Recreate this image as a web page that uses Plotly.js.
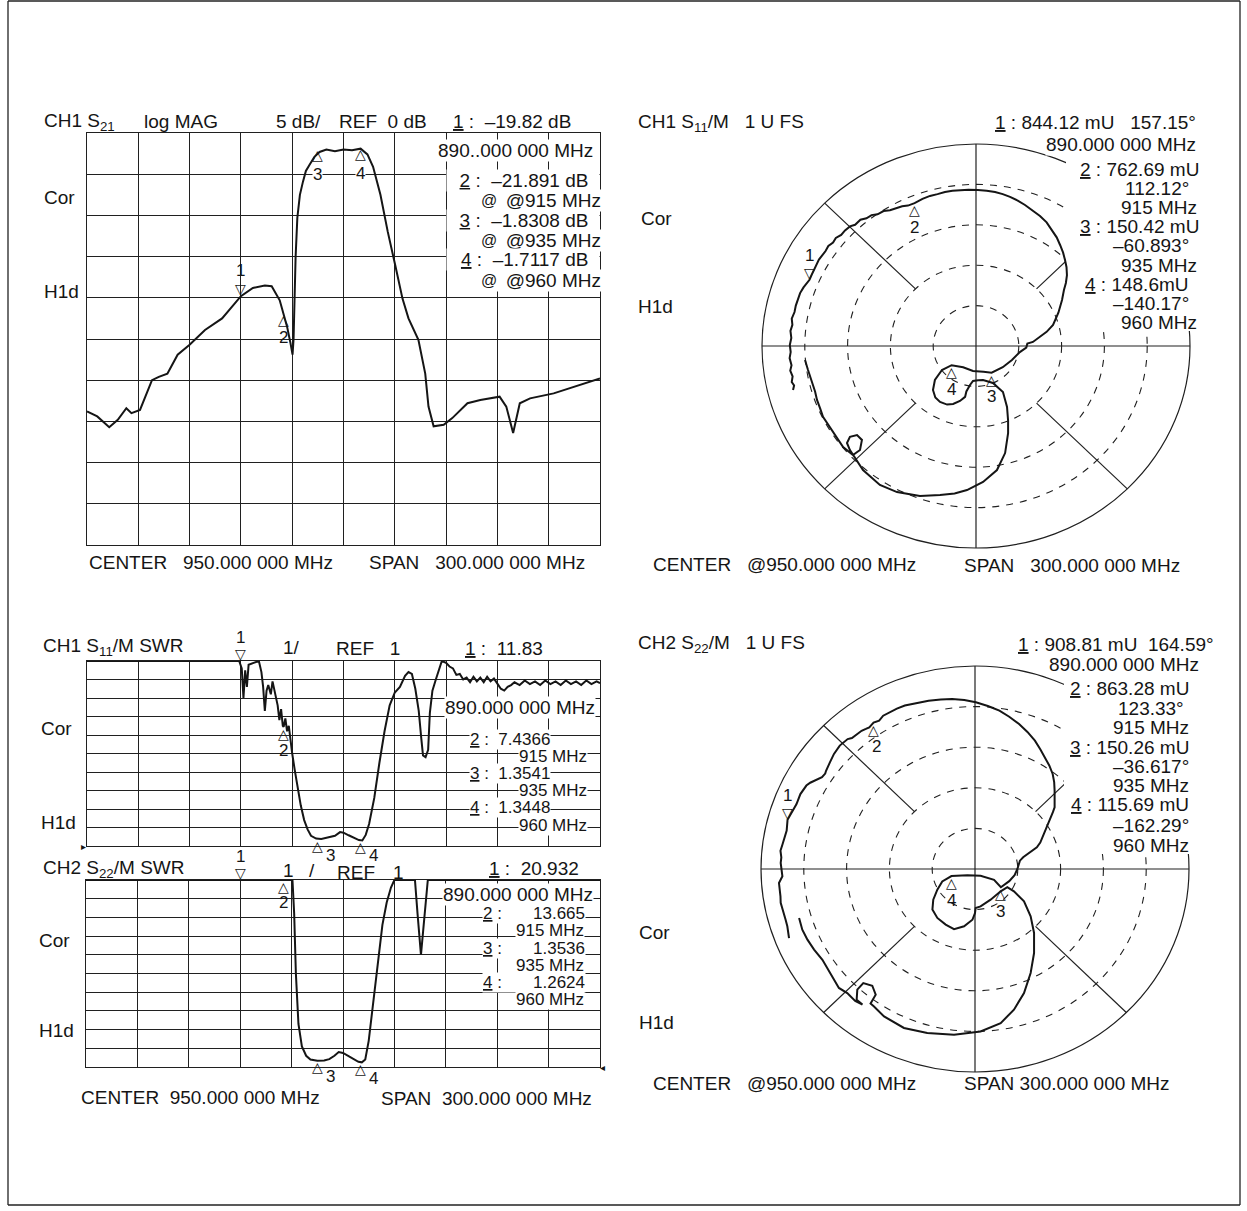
<!DOCTYPE html>
<html><head><meta charset="utf-8">
<script src="https://cdn.plot.ly/plotly-3.0.1.min.js"></script>
<style>html,body{margin:0;padding:0;background:#fff}#chart{width:1247px;height:1211px}</style>
</head><body><div id="chart"></div>
<script>
// ---------------- DATA ----------------
const markerFreq = [890, 915, 935, 960];

// CH1 S21 log MAG (MHz, dB)
const s21Freq = [800,806,813,818,823,826,831,838,842,847,853,860,869,879,890,897,904,908,912.7,914.7,917,919,920.2,920.8,921.3,922,923,924.5,926.3,928,930.6,933,936,940,945,950,955,960,964,967.3,971.6,975.9,980.2,982,984.5,988,993.8,997.8,999.7,1002.7,1008.6,1013.6,1022.5,1030,1036.3,1041.3,1045.2,1049.2,1053.1,1059.1,1072.9,1088.7,1100];
const s21Db   = [-33.8,-34.4,-35.7,-34.8,-33.4,-34.0,-33.6,-30.0,-29.6,-29.2,-26.9,-25.7,-23.9,-22.5,-19.8,-18.8,-18.5,-18.6,-20.3,-21.7,-23.5,-25.5,-26.9,-25.0,-20.5,-15.0,-10.3,-7.5,-5.9,-4.6,-3.7,-2.9,-2.3,-2.0,-2.2,-2.0,-2.1,-1.9,-2.6,-4.1,-7.5,-12.0,-16.0,-17.6,-20.1,-22.5,-25.1,-29.2,-33.2,-35.6,-35.4,-34.6,-32.8,-32.4,-32.2,-32.0,-33.2,-36.4,-32.8,-32.2,-31.6,-30.6,-29.8];

// CH1 S11 SWR (display clipped at top of screen)
const s11SwrFreq = [800,889,890.5,891.5,892.5,893.5,894.5,897,900.5,902,903,904,905,906,907.5,908.5,910,911.5,912.5,913.5,914.5,915,916,917,918,919,920,921.5,923,925,927,929,931,934,937,941,945,948,950,953,956,959,961,963,965,968,971,974,977,980,983,986,988,990,992,994,995.5,996.5,998,999.5,1000.5,1002,1004,1006,1007.5,1010,1012,1014,1016,1018,1020,1022,1024,1026,1028,1030,1032,1034,1036,1038,1040,1042,1044,1046,1048,1050,1053,1056,1059,1062,1065,1068,1071,1074,1077,1080,1083,1086,1089,1092,1095,1098,1100];
const s11Swr = [11,11,10.6,9.0,10.5,9.6,10.8,10.9,11,10.4,9.6,8.3,9.4,9.7,9.2,9.9,9.3,8.6,7.8,8.4,7.5,7.44,7.9,7.2,7.5,6.6,6.0,5.1,4.2,3.2,2.4,1.9,1.55,1.4,1.38,1.45,1.55,1.75,1.72,1.58,1.45,1.32,1.3,1.6,2.2,3.6,5.5,7.2,8.6,9.3,9.6,10.2,10.4,10.3,9.5,8.3,6.8,5.9,5.8,6.2,8.2,9.4,10.0,10.6,11,10.9,10.7,10.6,10.25,10.3,10.0,10.1,9.85,10.15,9.9,10.1,9.85,10.15,9.9,10.05,9.8,9.5,9.4,9.6,9.7,9.85,9.7,9.95,9.75,9.9,9.7,9.95,9.75,9.9,9.7,9.95,9.75,9.9,9.7,9.95,9.75,9.9,9.8];

// CH2 S22 SWR
const s22SwrFreq = [800,920.5,921.5,922.5,924,926,928.5,931,935,939,942,945,947.5,950,953,956,959,961,963,965,967,969,971,973,975.5,978,980,992,993.5,995.5,997.5,999.5,1100];
const s22Swr = [11,11,9.2,6.0,3.3,2.1,1.6,1.4,1.33,1.35,1.42,1.6,1.8,1.75,1.6,1.45,1.28,1.25,1.4,2.4,4.0,5.6,7.2,8.6,9.8,10.6,11,11,9.2,7.0,9.0,11,11];

// CH1 S11 reflection coefficient (real, imaginary), 800 -> 1100 MHz
const s11Re = [-0.855,-0.850,-0.861,-0.857,-0.868,-0.862,-0.871,-0.866,-0.870,-0.863,-0.867,-0.858,-0.861,-0.848,-0.842,-0.830,-0.822,-0.806,-0.796,-0.778,-0.768,-0.756,-0.748,-0.734,-0.716,-0.703,-0.690,-0.668,-0.655,-0.630,-0.612,-0.589,-0.565,-0.540,-0.512,-0.488,-0.460,-0.432,-0.402,-0.372,-0.345,-0.318,-0.287,-0.250,-0.215,-0.180,-0.145,-0.110,-0.075,-0.035,0.009,0.050,0.089,0.125,0.159,0.195,0.229,0.265,0.299,0.330,0.355,0.377,0.393,0.407,0.416,0.423,0.425,0.420,0.411,0.402,0.385,0.360,0.330,0.300,0.266,0.240,0.235,0.205,0.168,0.125,0.073,0.035,-0.014,-0.060,-0.114,-0.159,-0.192,-0.201,-0.190,-0.168,-0.135,-0.107,-0.075,-0.051,-0.045,-0.028,-0.014,0.010,0.033,0.079,0.126,0.145,0.150,0.150,0.136,0.098,0.033,-0.042,-0.100,-0.168,-0.262,-0.369,-0.449,-0.528,-0.565,-0.589,-0.603,-0.589,-0.556,-0.533,-0.542,-0.575,-0.621,-0.640,-0.668,-0.690,-0.715,-0.728,-0.743,-0.752,-0.766,-0.785,-0.799];
const s11Im = [-0.218,-0.195,-0.178,-0.150,-0.122,-0.095,-0.060,-0.030,0.005,0.040,0.075,0.105,0.135,0.168,0.200,0.232,0.262,0.290,0.305,0.328,0.352,0.378,0.400,0.428,0.452,0.470,0.495,0.512,0.535,0.550,0.572,0.592,0.600,0.625,0.632,0.648,0.652,0.668,0.672,0.683,0.692,0.695,0.707,0.728,0.743,0.752,0.762,0.768,0.772,0.774,0.772,0.769,0.762,0.752,0.738,0.720,0.698,0.672,0.644,0.612,0.574,0.538,0.500,0.462,0.426,0.390,0.351,0.312,0.277,0.228,0.165,0.104,0.070,0.045,0.020,0.012,-0.008,-0.030,-0.069,-0.105,-0.132,-0.128,-0.124,-0.105,-0.095,-0.119,-0.168,-0.218,-0.255,-0.277,-0.290,-0.287,-0.272,-0.252,-0.225,-0.193,-0.173,-0.170,-0.168,-0.183,-0.228,-0.302,-0.370,-0.431,-0.530,-0.614,-0.673,-0.713,-0.730,-0.738,-0.743,-0.723,-0.688,-0.614,-0.550,-0.515,-0.480,-0.450,-0.441,-0.465,-0.515,-0.540,-0.500,-0.470,-0.431,-0.395,-0.351,-0.310,-0.267,-0.225,-0.183,-0.119,-0.069];

// CH2 S22 reflection coefficient (real, imaginary), 800 -> 1100 MHz
const s22Re = [-0.869,-0.872,-0.877,-0.885,-0.893,-0.900,-0.908,-0.909,-0.911,-0.916,-0.900,-0.905,-0.908,-0.905,-0.909,-0.899,-0.890,-0.880,-0.876,-0.853,-0.845,-0.834,-0.816,-0.800,-0.788,-0.770,-0.751,-0.715,-0.700,-0.696,-0.678,-0.659,-0.632,-0.610,-0.595,-0.575,-0.558,-0.530,-0.510,-0.494,-0.474,-0.448,-0.429,-0.401,-0.365,-0.328,-0.270,-0.217,-0.160,-0.107,-0.050,0.004,0.060,0.114,0.160,0.206,0.245,0.280,0.305,0.326,0.347,0.363,0.370,0.372,0.373,0.372,0.364,0.354,0.345,0.335,0.327,0.317,0.305,0.289,0.265,0.243,0.225,0.210,0.198,0.185,0.160,0.121,0.089,0.026,-0.036,-0.110,-0.153,-0.176,-0.195,-0.199,-0.176,-0.137,-0.098,-0.051,-0.012,0.000,0.003,0.026,0.073,0.120,0.151,0.182,0.229,0.260,0.276,0.276,0.260,0.229,0.182,0.120,0.026,-0.098,-0.223,-0.332,-0.425,-0.472,-0.488,-0.464,-0.480,-0.522,-0.550,-0.553,-0.526,-0.560,-0.597,-0.636,-0.674,-0.713,-0.752,-0.783,-0.807,-0.822];
const s22Im = [-0.340,-0.310,-0.282,-0.250,-0.217,-0.190,-0.167,-0.135,-0.102,-0.069,-0.036,0.013,0.030,0.057,0.090,0.123,0.155,0.189,0.242,0.287,0.300,0.320,0.369,0.392,0.411,0.425,0.435,0.452,0.470,0.484,0.525,0.567,0.608,0.630,0.640,0.645,0.657,0.681,0.690,0.698,0.721,0.731,0.755,0.772,0.790,0.805,0.818,0.829,0.835,0.837,0.832,0.821,0.803,0.780,0.750,0.714,0.675,0.632,0.590,0.550,0.510,0.468,0.428,0.386,0.345,0.304,0.280,0.255,0.230,0.205,0.180,0.156,0.130,0.107,0.090,0.074,0.058,0.041,0.000,-0.030,-0.060,-0.090,-0.053,-0.033,-0.031,-0.035,-0.061,-0.102,-0.151,-0.200,-0.241,-0.274,-0.296,-0.282,-0.250,-0.217,-0.192,-0.184,-0.151,-0.110,-0.089,-0.110,-0.159,-0.233,-0.315,-0.414,-0.512,-0.611,-0.693,-0.759,-0.800,-0.816,-0.808,-0.783,-0.726,-0.677,-0.663,-0.619,-0.575,-0.562,-0.594,-0.644,-0.668,-0.650,-0.611,-0.586,-0.520,-0.447,-0.397,-0.348,-0.299,-0.241];

// marker readouts
const s21MarkerDb   = [-19.82, -21.891, -1.8308, -1.7117];
const s11SwrMarker  = [11.83, 7.4366, 1.3541, 1.3448];
const s22SwrMarker  = [20.932, 13.665, 1.3536, 1.2624];
const s11MarkMagmU  = [844.12, 762.69, 150.42, 148.6];
const s11MarkAngDeg = [157.15, 112.12, -60.893, -140.17];
const s22MarkMagmU  = [908.81, 863.28, 150.26, 115.69];
const s22MarkAngDeg = [164.59, 123.33, -36.617, -162.29];
const polarGridRadii = [0.2, 0.4, 0.6, 0.8];
const spokeAngles = [45, 135, 225, 315];

// ---------------- LAYOUT ----------------
const W = 1247, H = 1211;
const INK = '#151515';
const FONT = {family: '"Liberation Sans", Arial, Helvetica, sans-serif', size: 19, color: INK};
const SMALL = Object.assign({}, FONT, {size: 17});
const GLYPH = {family: '"DejaVu Sans", sans-serif', size: 14, color: INK};
const NB = '\u00a0';
const sp = n => NB.repeat(n);

function domX(a, b) { return [a / W, b / W]; }
function domY(top, bottom) { return [1 - bottom / H, 1 - top / H]; }

function cart(dom, range, dtick, tick0, anchor) {
  return {domain: dom, range: range, dtick: dtick, tick0: tick0, anchor: anchor,
    showgrid: true, gridcolor: '#202020', gridwidth: 1, zeroline: false,
    showline: true, mirror: true, linecolor: '#202020', linewidth: 1.2,
    showticklabels: false, ticks: '', fixedrange: true};
}
const PAD = 1.03;
const P1 = {cx: 976, cy: 346, rx: 214, ry: 202};
const P2 = {cx: 975, cy: 869, rx: 214, ry: 203};
function polX(p, anchor) { return {domain: domX(p.cx - p.rx * PAD, p.cx + p.rx * PAD), range: [-PAD, PAD], visible: false, fixedrange: true, anchor: anchor}; }
function polY(p, anchor) { return {domain: domY(p.cy - p.ry * PAD, p.cy + p.ry * PAD), range: [-PAD, PAD], visible: false, fixedrange: true, anchor: anchor}; }

const layout = {
  width: W, height: H, margin: {l: 0, r: 0, t: 0, b: 0},
  paper_bgcolor: '#fff', plot_bgcolor: 'rgba(0,0,0,0)', showlegend: false,
  font: FONT,
  xaxis:  cart(domX(87, 600), [800, 1100], 30, 800, 'y'),
  yaxis:  cart(domY(133, 545), [-50, 0], 5, 0, 'x'),
  xaxis2: cart(domX(87, 600), [800, 1100], 30, 800, 'y2'),
  yaxis2: cart(domY(661, 846), [1, 11], 1, 1, 'x2'),
  xaxis3: cart(domX(86, 600), [800, 1100], 30, 800, 'y3'),
  yaxis3: cart(domY(880, 1067), [1, 11], 1, 1, 'x3'),
  xaxis4: polX(P1, 'y4'), yaxis4: polY(P1, 'x4'),
  xaxis5: polX(P2, 'y5'), yaxis5: polY(P2, 'x5'),
  shapes: [], annotations: []
};

// polar grid drawn on the cartesian (slightly elliptical) print axes
function polarGrid(p, xr, yr, cover) {
  const L = {color: '#202020', width: 1.2};
  polarGridRadii.forEach(r => layout.shapes.push({type: 'circle', xref: xr, yref: yr, x0: -r, x1: r, y0: -r, y1: r, line: {color: '#202020', width: 1.1, dash: '7px,7px'}, layer: 'below'}));
  layout.shapes.push({type: 'circle', xref: xr, yref: yr, x0: -1, x1: 1, y0: -1, y1: 1, line: L, layer: 'below'});
  layout.shapes.push({type: 'line', xref: xr, yref: yr, x0: -1, x1: 1, y0: 0, y1: 0, line: L, layer: 'below'});
  layout.shapes.push({type: 'line', xref: xr, yref: yr, x0: 0, x1: 0, y0: -1, y1: 1, line: L, layer: 'below'});
  spokeAngles.forEach(a => {
    const c = Math.cos(a * Math.PI / 180), s = Math.sin(a * Math.PI / 180);
    layout.shapes.push({type: 'line', xref: xr, yref: yr, x0: 0.4 * c, y0: 0.4 * s, x1: c, y1: s, line: L, layer: 'below'});
  });
  // readout block erases the grid behind it (as on the printout)
  layout.shapes.push({type: 'rect', xref: xr, yref: yr,
    x0: (cover.x0 - p.cx) / p.rx, x1: (cover.x1 - p.cx) / p.rx,
    y0: (p.cy - cover.y1) / p.ry, y1: (p.cy - cover.y0) / p.ry,
    fillcolor: '#fff', line: {width: 0}, layer: 'below'});
}
polarGrid(P1, 'x4', 'y4', {x0: 1066, x1: 1215, y0: 160, y1: 331});
polarGrid(P2, 'x5', 'y5', {x0: 1064, x1: 1215, y0: 680, y1: 854});

// outer frame
const F = {color: '#222', width: 1.3};
[[8, 1, 1240, 1], [8, 1205, 1240, 1205], [8, 1, 8, 1205], [1240, 1, 1240, 1205]].forEach(s =>
  layout.shapes.push({type: 'line', xref: 'paper', yref: 'paper', x0: s[0] / W, y0: 1 - s[1] / H, x1: s[2] / W, y1: 1 - s[3] / H, line: F, layer: 'above'}));

// text helper (pixel positions)
function T(X, Y, text, anchor, extra) {
  const a = {xref: 'paper', yref: 'paper', x: X / W, y: 1 - Y / H, xanchor: anchor || 'left', yanchor: 'middle',
    text: text, showarrow: false, font: Object.assign({}, FONT), borderpad: 0};
  if (extra) Object.assign(a, extra);
  layout.annotations.push(a);
}
const BG = {bgcolor: '#fff'};
const SBG = {bgcolor: '#fff', font: SMALL};
// marker glyph helper (data positions)
function M(xr, yr, x, y, up, label, lx, ly, lblBg) {
  layout.annotations.push({xref: xr, yref: yr, x: x, y: y, xanchor: 'center', yanchor: up ? 'top' : 'bottom',
    text: up ? '△' : '▽', showarrow: false, font: GLYPH, borderpad: 0, yshift: up ? 2 : -2});
  const a = {xref: xr, yref: yr, x: x, y: y, xanchor: 'center', yanchor: 'middle', text: label, showarrow: false,
    font: Object.assign({}, FONT, {size: 17}), borderpad: 0, xshift: lx, yshift: ly};
  if (lblBg) a.bgcolor = '#fff';
  layout.annotations.push(a);
}

// ---- CH1 S21 log MAG ----
T(43, 122, 'CH1 S<sub>21</sub>');
T(143, 122, 'log MAG');
T(275, 122, '5 dB/');
T(338, 122, 'REF' + sp(2) + '0 dB');
T(452, 122, '<u>1</u> :' + sp(2) + '–19.82 dB');
T(594, 151, '890..000 000 MHz', 'right', BG);
const rowW = {width: 152, align: 'right', bgcolor: '#fff'};
T(600, 180, '<u>2</u> :' + sp(2) + '–21.891 dB' + sp(2), 'right', rowW);
T(602, 200, '@915 MHz', 'right', rowW);
T(600, 221, '<u>3</u> :' + sp(2) + '–1.8308 dB' + sp(2), 'right', rowW);
T(602, 241, '@935 MHz', 'right', rowW);
T(600, 260, '<u>4</u> :' + sp(2) + '–1.7117 dB' + sp(2), 'right', rowW);
T(602, 280, '@960 MHz', 'right', rowW);
[200, 241, 280].forEach(y => T(480, y, '@', 'left', {font: Object.assign({}, FONT, {size: 16})}));
T(43, 198, 'Cor'); T(43, 292, 'H1d');
T(88, 562, 'CENTER' + sp(3) + '950.000 000 MHz');
T(368, 563, 'SPAN' + sp(3) + '300.000 000 MHz');
M('x', 'y', markerFreq[0], s21MarkerDb[0], false, '1', 0, 26);
M('x', 'y', markerFreq[1], s21MarkerDb[1], true, '2', 0, -24);
M('x', 'y', markerFreq[2], s21MarkerDb[2], true, '3', 0, -26, true);
M('x', 'y', markerFreq[3], s21MarkerDb[3], true, '4', 0, -26, true);

// ---- CH1 S11 polar ----
T(637, 123, 'CH1 S<sub>11</sub>/M' + sp(3) + '1 U FS');
T(1197, 123, '<u>1</u> : 844.12 mU' + sp(3) + '157.15°', 'right', BG);
T(1197, 145, '890.000 000 MHz', 'right', BG);
T(1200, 169, '<u>2</u> : 762.69 mU', 'right');
T(1190, 189, '112.12°', 'right');
T(1198, 208, '915 MHz', 'right');
T(1200, 227, '<u>3</u> : 150.42 mU', 'right');
T(1190, 246, '–60.893°', 'right');
T(1198, 265, '935 MHz', 'right');
T(1190, 284, '<u>4</u> : 148.6mU', 'right');
T(1190, 303, '–140.17°', 'right');
T(1198, 322, '960 MHz', 'right');
T(640, 218, 'Cor'); T(637, 307, 'H1d');
T(652, 564, 'CENTER' + sp(3) + '@950.000 000 MHz');
T(963, 565, 'SPAN' + sp(3) + '300.000 000 MHz');
function reIm(mag, ang) { const r = mag / 1000, t = ang * Math.PI / 180; return [r * Math.cos(t), r * Math.sin(t)]; }
[0, 1, 2, 3].forEach(i => {
  const p = reIm(s11MarkMagmU[i], s11MarkAngDeg[i]);
  if (i === 0) M('x4', 'y4', p[0], p[1], false, '1', 0, 24);
  else M('x4', 'y4', p[0], p[1], true, String(i + 1), 0, -24);
});

// ---- CH1 S11 SWR ----
T(42, 647, 'CH1 S<sub>11</sub>/M SWR');
T(282, 647, '1/');
T(335, 648, 'REF' + sp(3) + '1');
T(464, 648, '<u>1</u> :' + sp(2) + '11.83');
T(596, 707, '890.000 000 MHz', 'right', BG);
T(469, 739, '<u>2</u> :' + sp(2) + '7.4366', 'left', SBG);
T(588, 756, '915 MHz', 'right', SBG);
T(469, 773, '<u>3</u> :' + sp(2) + '1.3541', 'left', SBG);
T(588, 790, '935 MHz', 'right', SBG);
T(469, 807, '<u>4</u> :' + sp(2) + '1.3448', 'left', SBG);
T(588, 825, '960 MHz', 'right', SBG);
T(40, 728, 'Cor'); T(40, 822, 'H1d');
M('x2', 'y2', markerFreq[0], Math.min(s11SwrMarker[0], 11), false, '1', 0, 24);
M('x2', 'y2', markerFreq[1], Math.min(s11SwrMarker[1], 11), true, '2', 0, -24);
M('x2', 'y2', markerFreq[2], s11SwrMarker[2], true, '3', 13, -16);
M('x2', 'y2', markerFreq[3], s11SwrMarker[3], true, '4', 13, -16);
T(83, 846, '▸', 'center', {font: Object.assign({}, GLYPH, {size: 10})});

// ---- CH2 S22 SWR ----
T(42, 869, 'CH2 S<sub>22</sub>/M SWR');
T(282, 870, '1'); T(308, 870, '/'); T(336, 872, 'REF'); T(392, 872, '1');
T(488, 868, '<u>1</u> :' + sp(2) + '20.932');
T(594, 894, '890.000 000 MHz', 'right', BG);
const keyW = {width: 52, align: 'left', bgcolor: '#fff', font: SMALL};
T(482, 913, '<u>2</u> :', 'left', keyW); T(586, 913, '13.665', 'right', SBG);
T(585, 930, '915 MHz', 'right', SBG);
T(482, 948, '<u>3</u> :', 'left', keyW); T(586, 948, '1.3536', 'right', SBG);
T(585, 965, '935 MHz', 'right', SBG);
T(482, 982, '<u>4</u> :', 'left', keyW); T(586, 982, '1.2624', 'right', SBG);
T(585, 999, '960 MHz', 'right', SBG);
T(38, 940, 'Cor'); T(38, 1030, 'H1d');
T(80, 1097, 'CENTER' + sp(2) + '950.000 000 MHz');
T(380, 1098, 'SPAN' + sp(2) + '300.000 000 MHz');
M('x3', 'y3', markerFreq[0], Math.min(s22SwrMarker[0], 11), false, '1', 0, 24);
M('x3', 'y3', markerFreq[1], Math.min(s22SwrMarker[1], 11), true, '2', 0, -22);
M('x3', 'y3', markerFreq[2], s22SwrMarker[2], true, '3', 13, -16);
M('x3', 'y3', markerFreq[3], s22SwrMarker[3], true, '4', 13, -16);
T(602, 1067, '◂', 'center', {font: Object.assign({}, GLYPH, {size: 10})});

// ---- CH2 S22 polar ----
T(637, 644, 'CH2 S<sub>22</sub>/M' + sp(3) + '1 U FS');
T(1215, 644, '<u>1</u> : 908.81 mU' + sp(2) + '164.59°', 'right');
T(1200, 664, '890.000 000 MHz', 'right', BG);
T(1190, 688, '<u>2</u> : 863.28 mU', 'right');
T(1185, 708, '123.33°', 'right');
T(1190, 727, '915 MHz', 'right');
T(1190, 747, '<u>3</u> : 150.26 mU', 'right');
T(1190, 766, '–36.617°', 'right');
T(1190, 785, '935 MHz', 'right');
T(1190, 805, '<u>4</u> : 115.69 mU', 'right');
T(1190, 825, '–162.29°', 'right');
T(1190, 845, '960 MHz', 'right');
T(638, 932, 'Cor'); T(638, 1022, 'H1d');
T(652, 1083, 'CENTER' + sp(3) + '@950.000 000 MHz');
T(963, 1083, 'SPAN 300.000 000 MHz');
[0, 1, 2, 3].forEach(i => {
  const p = reIm(s22MarkMagmU[i], s22MarkAngDeg[i]);
  if (i === 0) M('x5', 'y5', p[0], p[1], false, '1', 0, 24);
  else M('x5', 'y5', p[0], p[1], true, String(i + 1), i === 1 ? 3 : 0, -24);
});

// ---------------- TRACES ----------------
const LINE = {color: INK, width: 2};
const base = {mode: 'lines', line: LINE, hoverinfo: 'skip', showlegend: false};
const data = [
  Object.assign({x: s21Freq, y: s21Db, xaxis: 'x', yaxis: 'y'}, base),
  Object.assign({x: s11SwrFreq, y: s11Swr, xaxis: 'x2', yaxis: 'y2'}, base),
  Object.assign({x: s22SwrFreq, y: s22Swr, xaxis: 'x3', yaxis: 'y3'}, base),
  Object.assign({x: s11Re, y: s11Im, xaxis: 'x4', yaxis: 'y4'}, base),
  Object.assign({x: s22Re, y: s22Im, xaxis: 'x5', yaxis: 'y5'}, base)
];

Plotly.newPlot('chart', data, layout, {staticPlot: true, displayModeBar: false});
</script>
</body></html>
